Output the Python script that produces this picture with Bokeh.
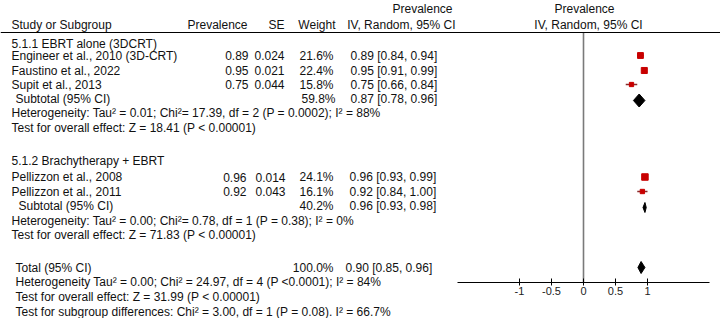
from bokeh.plotting import figure
from bokeh.models import Range1d, LinearAxis, FixedTicker, Span
from bokeh.core.properties import value
from bokeh.embed import file_html
from bokeh.resources import INLINE

# ---------------- data ----------------
g1_title = "5.1.1 EBRT alone (3DCRT)"
g1_studies = ["Engineer et al., 2010 (3D-CRT)", "Faustino et al., 2022", "Supit et al., 2013"]
g1_prev = [0.89, 0.95, 0.75]
g1_se = [0.024, 0.021, 0.044]
g1_weight = [21.6, 22.4, 15.8]
g1_lo = [0.84, 0.91, 0.66]
g1_hi = [0.94, 0.99, 0.84]
g1_sub = [0.87, 0.78, 0.96]
g1_sub_weight = 59.8
g1_het = "Heterogeneity: Tau\u00b2 = 0.01; Chi\u00b2= 17.39, df = 2 (P = 0.0002); I\u00b2 = 88%"
g1_test = "Test for overall effect: Z = 18.41 (P < 0.00001)"

g2_title = "5.1.2 Brachytherapy + EBRT"
g2_studies = ["Pellizzon et al., 2008", "Pellizzon et al., 2011"]
g2_prev = [0.96, 0.92]
g2_se = [0.014, 0.043]
g2_weight = [24.1, 16.1]
g2_lo = [0.93, 0.84]
g2_hi = [0.99, 1.00]
g2_sub = [0.96, 0.93, 0.98]
g2_sub_weight = 40.2
g2_het = "Heterogeneity: Tau\u00b2 = 0.00; Chi\u00b2= 0.78, df = 1 (P = 0.38); I\u00b2 = 0%"
g2_test = "Test for overall effect: Z = 71.83 (P < 0.00001)"

total = [0.90, 0.85, 0.96]
total_weight = 100.0
total_het = "Heterogeneity Tau\u00b2 = 0.00; Chi\u00b2 = 24.97, df = 4 (P <0.0001); I\u00b2 = 84%"
total_test = "Test for overall effect: Z = 31.99 (P < 0.00001)"
subgroup_test = "Test for subgroup differences: Chi\u00b2 = 3.00, df = 1 (P = 0.08). I\u00b2 = 66.7%"

axis_ticks = [-1, -0.5, 0, 0.5, 1]
axis_labels = ["-1", "-0.5", "0", "0.5", "1"]

# ---------------- layout (pixel rows) ----------------
FONT = "Liberation Sans"
FS = "12px"
TXT = "#111111"
RED = "#c80000"

y_g1_title = 43
y_g1 = [55, 70, 84]
y_g1_sub = 98
y_g1_het = 112
y_g1_test = 127
y_g2_title = 160
y_g2 = [176.5, 191]
y_g2_sub = 205
y_g2_het = 220
y_g2_test = 234.5
y_tot = 267
y_tot_het = 281
y_tot_test = 296
y_sg_test = 311
y_axis = 282


def ci(p, l, h):
    return f"{p:.2f} [{l:.2f}, {h:.2f}]"


p = figure(width=720, height=318, x_range=Range1d(-583 / 64, 137 / 64), y_range=Range1d(318, 0),
           x_axis_type=None, y_axis_type=None, output_backend="svg",
           toolbar_location=None, min_border=0)
p.extra_x_ranges = {"px": Range1d(0, 720)}
p.grid.visible = False
p.outline_line_color = None


def t(x, y, s, align="left", size=FS):
    p.text(x=[x], y=[y], text=[s], x_range_name="px", text_font=value(FONT), text_font_size=size,
           text_align=align, text_baseline="middle", text_color=TXT)


# headers
t(11, 24, "Study or Subgroup")
t(247, 24, "Prevalence", "right")
t(284, 24, "SE", "right")
t(335, 24, "Weight", "right")
t(455, 24, "IV, Random, 95% CI", "right")
t(422, 8, "Prevalence", "center")
t(588, 24, "IV, Random, 95% CI", "center")
t(584, 8, "Prevalence", "center")
p.add_layout(Span(location=32, dimension="width", line_color="black", line_width=1.2))

# group 1
t(11, y_g1_title, g1_title)
for i, s in enumerate(g1_studies):
    yy = y_g1[i]
    t(11, yy, s)
    t(248, yy, f"{g1_prev[i]:.2f}", "right")
    t(284, yy, f"{g1_se[i]:.3f}", "right")
    t(333, yy, f"{g1_weight[i]:.1f}%", "right")
    t(350, yy, ci(g1_prev[i], g1_lo[i], g1_hi[i]))
t(15, y_g1_sub, "Subtotal (95% CI)")
t(335, y_g1_sub, f"{g1_sub_weight:.1f}%", "right")
t(350, y_g1_sub, ci(*g1_sub))
t(11, y_g1_het, g1_het)
t(11, y_g1_test, g1_test)

# group 2
t(11, y_g2_title, g2_title)
for i, s in enumerate(g2_studies):
    yy = y_g2[i]
    t(11, yy, s)
    t(246, yy, f"{g2_prev[i]:.2f}", "right")
    t(285, yy, f"{g2_se[i]:.3f}", "right")
    t(333, yy, f"{g2_weight[i]:.1f}%", "right")
    t(349, yy, ci(g2_prev[i], g2_lo[i], g2_hi[i]))
t(18, y_g2_sub, "Subtotal (95% CI)")
t(333, y_g2_sub, f"{g2_sub_weight:.1f}%", "right")
t(349, y_g2_sub, ci(*g2_sub))
t(11, y_g2_het, g2_het)
t(11, y_g2_test, g2_test)

# total
t(15, y_tot, "Total (95% CI)")
t(333, y_tot, f"{total_weight:.1f}%", "right")
t(345, y_tot, ci(*total))
t(15, y_tot_het, total_het)
t(15, y_tot_test, total_test)
t(15, y_sg_test, subgroup_test)

# ---------------- forest panel ----------------
ax = LinearAxis(ticker=FixedTicker(ticks=axis_ticks),
                major_label_overrides={k: v for k, v in zip(axis_ticks, axis_labels)},
                bounds=(-1.97, 1.97), major_tick_in=4, major_tick_out=3,
                minor_tick_line_color=None, axis_line_color="black", axis_line_width=1.2,
                major_tick_line_color="black", major_label_standoff=1,
                major_label_text_font=FONT, major_label_text_font_size="11px",
                major_label_text_color="#222222", fixed_location=y_axis)
p.add_layout(ax, "below")

# null line
p.segment(x0=[0], y0=[32], x1=[0], y1=[y_axis], line_color="#7a7a7a", line_width=1.6)

all_prev = g1_prev + g2_prev
all_lo = g1_lo + g2_lo
all_hi = g1_hi + g2_hi
all_w = g1_weight + g2_weight
all_y = y_g1 + y_g2
p.segment(x0=all_lo, y0=all_y, x1=all_hi, y1=all_y, line_color="#8a2a2a", line_width=1.3)
p.scatter(x=all_prev, y=all_y, marker="square", size=[w * 0.27 for w in all_w],
          fill_color=RED, line_color=RED)


def diamond(est, lo, hi, yy, h):
    p.patch(x=[lo, est, hi, est], y=[yy, yy - h, yy, yy + h],
            fill_color="black", line_color="black", line_width=1)


diamond(g1_sub[0], g1_sub[1], g1_sub[2], y_g1_sub + 2, 6.5)
diamond(g2_sub[0], g2_sub[1], g2_sub[2], y_g2_sub + 2, 5)
diamond(total[0], total[1], total[2], y_tot, 6)

open("out.html", "w").write(file_html(p, INLINE))
